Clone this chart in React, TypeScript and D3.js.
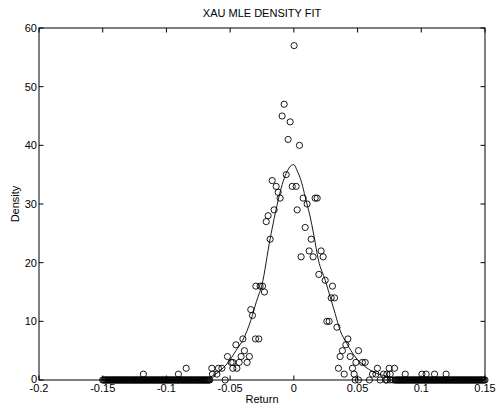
import React from "react";
import * as d3 from "d3";

// Tick values / labels
const xTicks = [-0.2, -0.15, -0.1, -0.05, 0, 0.05, 0.1, 0.15];
const xTickLabels = ["-0.2", "-0.15", "-0.1", "-0.05", "0", "0.05", "0.1", "0.15"];
const yTicks = [0, 10, 20, 30, 40, 50, 60];
const yTickLabels = ["0", "10", "20", "30", "40", "50", "60"];

const returnX = [
  0.0002, -0.0076, -0.0092, -0.0029, -0.0045, 0.0044, -0.006, -0.017, -0.0139, -0.0013,
  0.0018, -0.0123, -0.0108, 0.0073, 0.0167, 0.0183, 0.0104, -0.0155, 0.0026, -0.0202,
  -0.0217, 0.0089, -0.0186, 0.0136, 0.012, 0.0214, 0.0057, 0.0151, 0.023,
  0.0196, 0.0246, 0.0303, 0.0293, 0.0319, 0.0259, 0.0277, 0.0338, 0.0424, 0.0408,
  0.0381, 0.0507, 0.0363, 0.0442, 0.0487, 0.0538, 0.056, 0.035, 0.046, 0.0656,
  0.0748, 0.079, 0.0395, 0.0473, 0.0617, 0.0644, 0.0703, 0.073, 0.0756, 0.0874,
  0.1005, 0.1038, 0.1104, 0.1195,
  -0.0298, -0.0265, -0.0246, -0.0231, -0.0338, -0.0325, -0.04, -0.0301, -0.0275, -0.0455,
  -0.0388, -0.0349, -0.0414, -0.0521, -0.0492, -0.0479, -0.0429, -0.0367, -0.0644, -0.0592,
  -0.0565, -0.0479, -0.0447, -0.0845, -0.0639, -0.0604, -0.1181, -0.0906,
];
const densityY = [
  57, 47, 45, 44, 41, 40, 35, 34, 33, 33,
  33, 32, 31, 31, 31, 31, 30, 29, 29, 28,
  27, 26, 24, 24, 22, 22, 21, 21, 21,
  18, 17, 16, 14, 14, 10, 10, 9, 7, 6,
  5, 5, 4, 4, 3, 3, 3, 2, 2, 2,
  2, 2, 1, 1, 1, 1, 1, 1, 1, 1,
  1, 1, 1, 1,
  16, 16, 16, 15, 12, 11, 7, 7, 7, 6,
  5, 4, 4, 4, 3, 3, 3, 3, 2, 2,
  2, 2, 2, 2, 1, 1, 1, 1,
];

// Returns whose empirical density is zero
const zeroReturns = [
  -0.15, -0.14925, -0.1485, -0.14775, -0.147, -0.14625, -0.1455, -0.14475, -0.144, -0.14325,
  -0.1425, -0.14175, -0.141, -0.14025, -0.1395, -0.13875, -0.138, -0.13725, -0.1365, -0.13575,
  -0.135, -0.13425, -0.1335, -0.13275, -0.132, -0.13125, -0.1305, -0.12975, -0.129, -0.12825,
  -0.1275, -0.12675, -0.126, -0.12525, -0.1245, -0.12375, -0.123, -0.12225, -0.1215, -0.12075,
  -0.12, -0.11925, -0.1185, -0.11775, -0.117, -0.11625, -0.1155, -0.11475, -0.114, -0.11325,
  -0.1125, -0.11175, -0.111, -0.11025, -0.1095, -0.10875, -0.108, -0.10725, -0.1065, -0.10575,
  -0.105, -0.10425, -0.1035, -0.10275, -0.102, -0.10125, -0.1005, -0.09975, -0.099, -0.09825,
  -0.0975, -0.09675, -0.096, -0.09525, -0.0945, -0.09375, -0.093, -0.09225, -0.0915, -0.09075,
  -0.09, -0.08925, -0.0885, -0.08775, -0.087, -0.08625, -0.0855, -0.08475, -0.084, -0.08325,
  -0.0825, -0.08175, -0.081, -0.08025, -0.0795, -0.07875, -0.078, -0.07725, -0.0765, -0.07575,
  -0.075, -0.07425, -0.0735, -0.07275, -0.072, -0.07125, -0.0705, -0.06975, -0.069, -0.06825,
  -0.0675, -0.06675, -0.066, -0.0539,
  0.0481, 0.0507, 0.0593, 0.0677, 0.072, 0.073, 0.0755, 0.078,
  0.0795, 0.08025, 0.081, 0.08175, 0.0825, 0.08325, 0.084, 0.08475, 0.0855, 0.08625,
  0.087, 0.08775, 0.0885, 0.08925, 0.09, 0.09075, 0.0915, 0.09225, 0.093, 0.09375,
  0.0945, 0.09525, 0.096, 0.09675, 0.0975, 0.09825, 0.099, 0.09975, 0.1005, 0.10125,
  0.102, 0.10275, 0.1035, 0.10425, 0.105, 0.10575, 0.1065, 0.10725, 0.108, 0.10875,
  0.1095, 0.11025, 0.111, 0.11175, 0.1125, 0.11325, 0.114, 0.11475, 0.1155, 0.11625,
  0.117, 0.11775, 0.1185, 0.11925, 0.12, 0.12075, 0.1215, 0.12225, 0.123, 0.12375,
  0.1245, 0.12525, 0.126, 0.12675, 0.1275, 0.12825, 0.129, 0.12975, 0.1305, 0.13125,
  0.132, 0.13275, 0.1335, 0.13425, 0.135, 0.13575, 0.1365, 0.13725, 0.138, 0.13875,
  0.1395, 0.14025, 0.141, 0.14175, 0.1425, 0.14325, 0.144, 0.14475, 0.1455, 0.14625,
  0.147, 0.14775, 0.1485, 0.14925, 0.15,
];

// Fitted MLE density curve, sampled from the plot
const fitX = [
  -0.15, -0.1, -0.0775, -0.067, -0.0592, -0.0513, -0.0461, -0.0382, -0.0325, -0.0293,
  -0.0251, -0.0186, -0.006, -0.0016, 0, 0.0024, 0.0063, 0.0089, 0.0128, 0.0154,
  0.0193, 0.0246, 0.0293, 0.0324, 0.0363, 0.0416, 0.0482, 0.0546, 0.0625, 0.073,
  0.0834, 0.1, 0.15,
];
const fitY = [
  0, 0, 0.05, 0.41, 1.36, 3.07, 4.78, 7.63, 11.04, 13.43,
  16.16, 24.09, 35.22, 36.63, 36.7, 35.78, 33.51, 31.22, 27.81, 25.03,
  20.42, 17.01, 13.6, 11.33, 8.48, 6.21, 3.92, 2.51, 1.36, 0.63,
  0.24, 0.02, 0,
];

const W = 500;
const H = 409;
const left = 39;
const right = 485;
const top = 28;
const bottom = 380;
const font = "'Liberation Sans', Arial, Helvetica, sans-serif";
const tickLen = 4.5;

export default function App() {
  const x = d3.scaleLinear().domain([-0.2, 0.15]).range([left, right]);
  const y = d3.scaleLinear().domain([0, 60]).range([bottom, top]);

  const line = d3
    .line<number>()
    .x((_, i) => x(fitX[i]))
    .y((_, i) => y(fitY[i]))
    .curve(d3.curveMonotoneX);
  const path = line(fitY) || "";

  return (
    <svg
      width={W}
      height={H}
      style={{ position: "absolute", left: 0, top: 0, background: "#fff" }}
      fontFamily={font}
    >
      <rect x={0} y={0} width={W} height={H} fill="#fff" />
      {/* zero-density markers */}
      {zeroReturns.map((v, i) => (
        <circle key={"z" + i} cx={x(v)} cy={y(0)} r={3.1} fill="none" stroke="#000" strokeWidth={0.9} />
      ))}
      {/* fitted curve */}
      <path d={path} fill="none" stroke="#000" strokeWidth={0.9} />
      {/* empirical density markers */}
      {returnX.map((v, i) => (
        <circle key={"p" + i} cx={x(v)} cy={y(densityY[i])} r={3.1} fill="none" stroke="#000" strokeWidth={0.9} />
      ))}
      {/* box */}
      <rect x={left} y={top} width={right - left} height={bottom - top} fill="none" stroke="#000" strokeWidth={1} />
      {/* x ticks */}
      {xTicks.map((t, i) => (
        <g key={"xt" + i}>
          <line x1={x(t)} x2={x(t)} y1={bottom} y2={bottom - tickLen} stroke="#000" strokeWidth={1} />
          <line x1={x(t)} x2={x(t)} y1={top} y2={top + tickLen} stroke="#000" strokeWidth={1} />
          <text x={x(t)} y={bottom + 12} fontSize={11} textAnchor="middle" fill="#000">
            {xTickLabels[i]}
          </text>
        </g>
      ))}
      {/* y ticks */}
      {yTicks.map((t, i) => (
        <g key={"yt" + i}>
          <line x1={left} x2={left + tickLen} y1={y(t)} y2={y(t)} stroke="#000" strokeWidth={1} />
          <line x1={right} x2={right - tickLen} y1={y(t)} y2={y(t)} stroke="#000" strokeWidth={1} />
          <text x={left - 2} y={y(t) + (t === 0 ? 2.5 : 4)} fontSize={11} textAnchor="end" fill="#000">
            {yTickLabels[i]}
          </text>
        </g>
      ))}
      <text x={(left + right) / 2} y={17} fontSize={11} textAnchor="middle" fill="#000">
        XAU MLE DENSITY FIT
      </text>
      <text x={(left + right) / 2} y={403} fontSize={11} textAnchor="middle" fill="#000">
        Return
      </text>
      <text
        transform={`translate(19, ${(top + bottom) / 2}) rotate(-90)`}
        fontSize={11}
        textAnchor="middle"
        fill="#000"
      >
        Density
      </text>
    </svg>
  );
}
